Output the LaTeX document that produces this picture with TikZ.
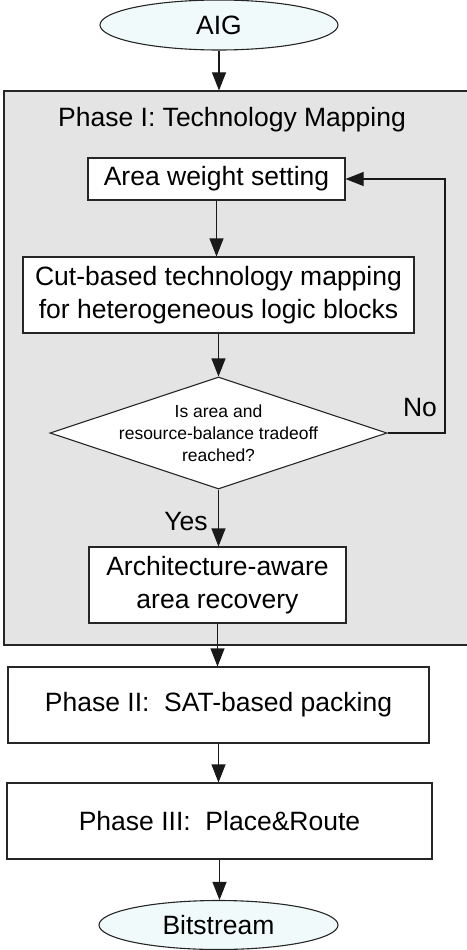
\documentclass[tikz,border=0pt]{standalone}
\usepackage{fontspec}
\setmainfont{Liberation Sans}
\usetikzlibrary{shapes.geometric,arrows.meta}
\definecolor{phasegray}{HTML}{E4E4E4}
\definecolor{termfill}{HTML}{F0FAFA}
\definecolor{boxfill}{HTML}{FFFFFF}
\begin{document}
\begin{tikzpicture}[x=1pt,y=-1pt,
  every node/.style={font=\fontsize{26.5}{33}\selectfont, text=black},
  terminal/.style={ellipse, draw=black!85, line width=1.1pt, fill=termfill, inner sep=0pt},
  stepbox/.style={rectangle, draw=black!85, line width=1.1pt, fill=boxfill, inner sep=0pt, align=center},
  decision/.style={diamond, draw=black!85, line width=1.1pt, fill=boxfill, inner sep=0pt},
  smalltext/.style={align=center, font=\fontsize{17.5}{22}\selectfont},
  flow/.style={draw=black!90, line width=1.1pt, -{Triangle[length=18pt,width=14pt]}},
  phasebox/.style={rectangle, draw=black!85, line width=1.1pt, fill=phasegray, inner sep=0pt}
]
\useasboundingbox (0,0) rectangle (466,950);

% Phase I container (its right side runs past the page edge)
\node[phasebox, minimum width=471pt, minimum height=554pt] (ph) at (239.5,368) {};
\node (phtitle) at (232,120) {Phase I: Technology Mapping};

% terminals
\node[terminal, minimum width=238pt, minimum height=50pt] (aig) at (219,25) {AIG};
\node[terminal, minimum width=239pt, minimum height=49pt] (bit) at (218.5,925) {Bitstream};

% Phase I steps
\node[stepbox, minimum width=257pt, minimum height=42pt] (aws) at (216.5,179) {Area weight setting};
\node[stepbox, minimum width=391pt, minimum height=76pt] (cut) at (218.5,295)
  {Cut-based technology mapping\\for heterogeneous logic blocks};
\node[decision, minimum width=337pt, minimum height=112pt] (dec) at (218.5,433) {};
\node[smalltext] (dectext) at (dec.center) {Is area and\\resource-balance tradeoff\\reached?};
\node[stepbox, minimum width=257pt, minimum height=76pt] (arch) at (217.5,585)
  {Architecture-aware\\area recovery};

% later phases
\node[stepbox, minimum width=421pt, minimum height=76pt] (p2) at (218.5,705) {Phase II:~~SAT-based packing};
\node[stepbox, minimum width=425pt, minimum height=76pt] (p3) at (219.5,821) {Phase III:~~Place\&Route};

% connectors
\draw[flow] (aig.south) -- (aig.south |- ph.north);
\draw[flow] (aws.south) -- (aws.south |- cut.north);
\draw[flow] (cut.south) -- (cut.south |- dec.north);
\coordinate (loop) at (445,433);
\draw[flow] (dec.east) -- (loop) |- (aws.east);
\node (no) at (420,408) {No};
\draw[flow] (dec.south) -- (dec.south |- arch.north);
\node (yes) at (186,522) {Yes};
\draw[flow] (arch.south) -- (arch.south |- p2.north);
\draw[flow] (p2.south) -- (p2.south |- p3.north);
\draw[flow] (p3.south) -- (p3.south |- bit.north);
\end{tikzpicture}
\end{document}
